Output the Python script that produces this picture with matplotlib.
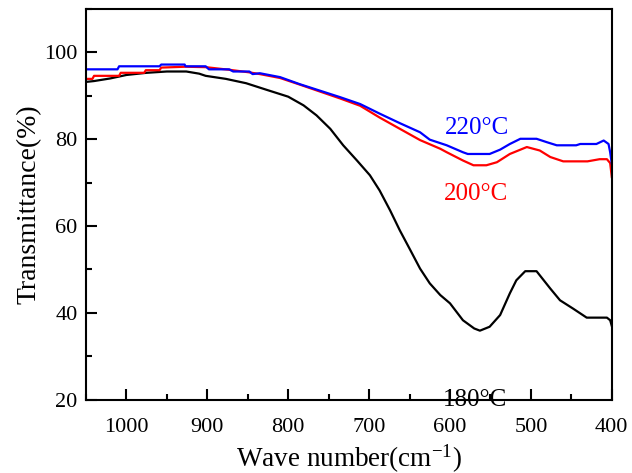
import matplotlib
matplotlib.use("Agg")
import matplotlib.pyplot as plt
from matplotlib.ticker import MultipleLocator

plt.rcParams["font.family"] = ["Liberation Serif", "DejaVu Serif"]
plt.rcParams["mathtext.default"] = "regular"

# 180 C sample
w_180 = [1050, 1040, 1020, 1000, 975, 950, 926, 910, 902, 877, 852, 827, 800, 781,
         765, 748, 732, 715, 699, 687, 674, 662, 650, 637, 625, 612, 600, 584,
         570, 563, 551, 538, 526, 518, 507, 493, 476, 464, 448, 431, 406, 402, 400]
t_180 = [93.2, 93.4, 94.0, 94.8, 95.3, 95.6, 95.6, 95.1, 94.6, 93.9, 92.9, 91.4, 89.8, 87.8,
         85.5, 82.4, 78.6, 75.1, 71.7, 68.2, 63.6, 59.0, 54.8, 50.2, 46.8, 44.1, 42.2, 38.3,
         36.4, 35.9, 36.8, 39.5, 44.5, 47.5, 49.6, 49.6, 45.6, 42.9, 41.0, 38.9, 38.9, 38.3, 37.0]

# 200 C sample
w_200 = [1050, 1042, 1040, 1009, 1007, 978, 976, 959, 957, 927, 902, 873, 848, 835,
         810, 786, 761, 736, 711, 687, 662, 637, 612, 604, 584, 571, 555, 542,
         526, 505, 489, 476, 460, 430, 415, 406, 402, 400]
t_200 = [93.9, 93.9, 94.6, 94.6, 95.3, 95.3, 95.9, 95.9, 96.5, 96.7, 96.6, 96.0, 95.4, 95.0,
         94.1, 92.6, 91.0, 89.4, 87.7, 85.0, 82.4, 79.8, 77.8, 77.0, 75.1, 74.0, 74.0, 74.7,
         76.6, 78.2, 77.4, 75.9, 74.9, 74.9, 75.4, 75.4, 74.5, 71.3]

# 220 C sample
w_220 = [1050, 1011, 1009, 959, 957, 928, 927, 902, 898, 873, 868, 848, 844, 835,
         810, 786, 761, 736, 711, 687, 662, 637, 625, 604, 584, 578, 551, 538,
         526, 513, 493, 480, 468, 444, 439, 419, 410, 404, 402, 400]
t_220 = [96.1, 96.1, 96.8, 96.8, 97.2, 97.2, 96.8, 96.8, 96.1, 96.1, 95.6, 95.6, 95.0, 95.2,
         94.3, 92.7, 91.2, 89.7, 88.1, 85.9, 83.7, 81.6, 79.9, 78.6, 77.0, 76.6, 76.6, 77.6,
         78.9, 80.1, 80.1, 79.3, 78.6, 78.6, 78.9, 78.9, 79.7, 78.9, 77.0, 74.4]

labels = ["180°C", "200°C", "220°C"]
label_x = [569, 568, 567]
label_y = [18.5, 65.9, 81.3]
colors = ["black", "red", "blue"]

fig = plt.figure(figsize=(6.32, 4.73), dpi=100)
ax = fig.add_axes([0.136, 0.155, 0.832, 0.826])

for w, t, c in zip([w_180, w_200, w_220], [t_180, t_200, t_220], colors):
    ax.plot(w, t, color=c, lw=1.6)

for s, x, y, c in zip(labels, label_x, label_y, colors):
    ax.text(x, y, s, color=c, fontsize=18, ha="center", va="baseline", clip_on=False)

ax.set_xlim(1050, 400)
ax.set_ylim(20, 110)
ax.xaxis.set_major_locator(MultipleLocator(100))
ax.xaxis.set_minor_locator(MultipleLocator(50))
ax.yaxis.set_major_locator(MultipleLocator(20))
ax.yaxis.set_minor_locator(MultipleLocator(10))
ax.tick_params(which="both", direction="in", top=False, right=False, width=1.5, labelsize=16)
ax.tick_params(which="major", length=8)
ax.tick_params(axis="x", which="major", pad=13)
ax.tick_params(axis="y", which="major", pad=6)
ax.tick_params(which="minor", length=4.5)
for sp in ax.spines.values():
    sp.set_linewidth(1.5)

ax.set_xlabel("Wave number(cm$^{-1}$)", fontsize=19.5, labelpad=4)
ax.set_ylabel("Transmittance(%)", fontsize=20, labelpad=2)

fig.savefig("out.png", dpi=100)
